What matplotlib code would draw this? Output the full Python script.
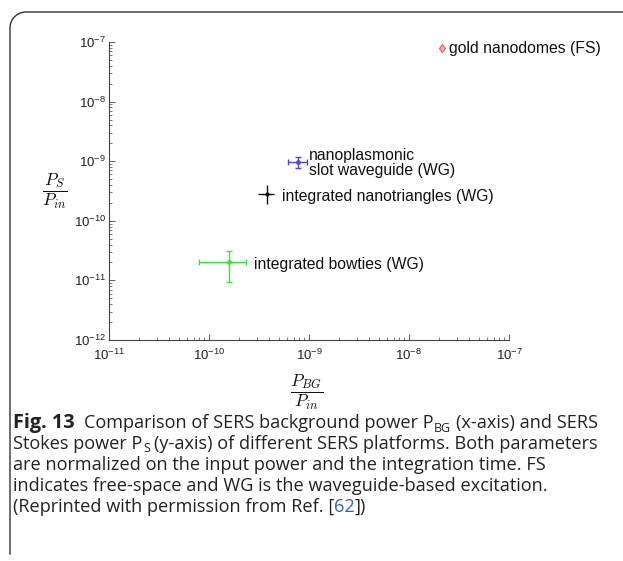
import numpy as np
import matplotlib
matplotlib.use("Agg")
import matplotlib.pyplot as plt
from matplotlib.lines import Line2D

plt.rcParams['mathtext.fontset'] = 'custom'
plt.rcParams['mathtext.rm'] = 'Liberation Sans'
plt.rcParams['mathtext.it'] = 'Liberation Sans:italic'
plt.rcParams['mathtext.bf'] = 'Liberation Sans:bold'
plt.rcParams['font.family'] = ['Liberation Sans', 'DejaVu Sans']

# ---------------- data ----------------
names = ["gold nanodomes (FS)", "nanoplasmonic\nslot waveguide (WG)",
         "integrated nanotriangles (WG)", "integrated bowties (WG)"]
x_val = [2.15e-8, 7.7e-10, 3.8e-10, 1.6e-10]
y_val = [7.8e-8, 9.8e-10, 2.8e-10, 2.05e-11]
x_lo = [2.10e-8, 6.2e-10, 3.07e-10, 7.9e-11]
x_hi = [2.20e-8, 9.5e-10, 4.5e-10, 2.34e-10]
y_lo = [7.0e-8, 7.6e-10, 1.9e-10, 9.5e-12]
y_hi = [8.6e-8, 1.19e-9, 4.0e-10, 3.16e-11]
colors = ["#e85a5a", "#4848e8", "#111111", "#3ce03c"]
label_pos = [(449, 48), (309, 163), (282, 196), (254, 264)]   # pixel anchors
x_ticks = [1e-11, 1e-10, 1e-9, 1e-8, 1e-7]
y_ticks = [1e-12, 1e-11, 1e-10, 1e-9, 1e-8, 1e-7]
x_tick_labels = [r"$10^{-11}$", r"$10^{-10}$", r"$10^{-9}$", r"$10^{-8}$", r"$10^{-7}$"]
y_tick_labels = [r"$10^{-12}$", r"$10^{-11}$", r"$10^{-10}$", r"$10^{-9}$", r"$10^{-8}$", r"$10^{-7}$"]

W, H = 623, 561
fig = plt.figure(figsize=(W / 100, H / 100), dpi=100)

def fx(px):
    return px / W

def fy(py):
    return 1 - py / H

ax = fig.add_axes([fx(109), fy(340), fx(509) - fx(109), fy(42) - fy(340)])
ax.set_xscale('log')
ax.set_yscale('log')
ax.set_xlim(1e-11, 1e-7)
ax.set_ylim(1e-12, 1e-7)
for s in ['top', 'right']:
    ax.spines[s].set_visible(False)
for s in ['left', 'bottom']:
    ax.spines[s].set_color('#444444')
    ax.spines[s].set_linewidth(0.8)
ax.set_xticks(x_ticks)
ax.set_xticklabels(x_tick_labels)
ax.set_yticks(y_ticks)
ax.set_yticklabels(y_tick_labels)
ax.tick_params(which='major', direction='in', length=4, width=0.6, color='#444444',
               labelsize=9.5, labelcolor='#222222')
ax.tick_params(which='minor', direction='in', length=2.2, width=0.5, color='#444444')
ax.tick_params(axis='y', pad=2)
ax.tick_params(axis='x', pad=5.5)

caps = [0, 2, 0, 2]
msz = [4.5, 2.5, 2.0, 2.5]
mks = ['d', 'o', 'o', 'o']
for i in range(len(names)):
    xe = [[x_val[i] - x_lo[i]], [x_hi[i] - x_val[i]]]
    ye = [[y_val[i] - y_lo[i]], [y_hi[i] - y_val[i]]]
    if i == 0:
        ax.errorbar([x_val[i]], [y_val[i]], yerr=ye, fmt=mks[i], color=colors[i],
                    ms=msz[i], mfc='#f4b0b0', mec=colors[i], mew=0.8, elinewidth=0.8,
                    capsize=0)
    else:
        ax.errorbar([x_val[i]], [y_val[i]], xerr=xe, yerr=ye, fmt=mks[i], color=colors[i],
                    ms=msz[i], elinewidth=1.0, capsize=caps[i], capthick=1.0)
    px, py = label_pos[i]
    fig.text(fx(px), fy(py), names[i], ha='left', va='center', fontsize=11.3,
             color='#111111', linespacing=0.95, family='Liberation Sans')

# axis labels (fractions)
fig.text(fx(55), fy(191), r"$\dfrac{P_S}{P_{in}}$", ha='center', va='center',
         fontsize=12.5, math_fontfamily='cm', color='#111111')
fig.text(fx(307), fy(392), r"$\dfrac{P_{BG}}{P_{in}}$", ha='center', va='center',
         fontsize=12.5, math_fontfamily='cm', color='#111111')

# rounded border (top and left)
r = 16
x0, y0 = 10, 12
theta = np.linspace(np.pi, np.pi / 2, 20)
arc_x = x0 + r + r * np.cos(theta)
arc_y = y0 + r - r * np.sin(theta)
bx = np.concatenate([[x0], arc_x, [W + 5]])
by = np.concatenate([[554], arc_y, [y0]])
fig.add_artist(Line2D(fx(bx), fy(by), transform=fig.transFigure, color='#333333', lw=1.0))

# caption
renderer = fig.canvas.get_renderer()
cap_font = 'Open Sans'
cap_size = 13.1
bold_size = 14.3
sub_size = 9.0

def width_of(t):
    bb = t.get_window_extent(renderer=renderer)
    return bb.width

def space_w(size, weight='normal'):
    a = fig.text(0, 0, "a a", fontsize=size, family=cap_font, weight=weight)
    b = fig.text(0, 0, "aa", fontsize=size, family=cap_font, weight=weight)
    w = width_of(a) - width_of(b)
    a.remove(); b.remove()
    return w

SP = space_w(cap_size)

def draw_line(x_px, y_px, segs):
    x = x_px
    for seg in segs:
        txt, size, weight, color, dy, gap_before = seg
        x += gap_before
        t = fig.text(fx(x), fy(y_px + dy), txt, fontsize=size, family=cap_font,
                     weight=weight, color=color, ha='left', va='baseline')
        x += width_of(t)

K = '#222222'
B = '#3060c0'
lines = [
    [("Fig. 13", bold_size, 'bold', K, 0, 0),
     ("Comparison of SERS background power P", cap_size, 'normal', K, 0, SP * 2.0),
     ("BG", sub_size, 'normal', K, 3.5, 0.5),
     ("(x-axis) and SERS", cap_size, 'normal', K, 0, SP)],
    [("Stokes power P", cap_size, 'normal', K, 0, 0),
     ("S", sub_size, 'normal', K, 3.5, 0.5),
     ("(y-axis) of different SERS platforms. Both parameters", cap_size, 'normal', K, 0, SP)],
    [("are normalized on the input power and the integration time. FS", cap_size, 'normal', K, 0, 0)],
    [("indicates free-space and WG is the waveguide-based excitation.", cap_size, 'normal', K, 0, 0)],
    [("(Reprinted with permission from Ref. [", cap_size, 'normal', K, 0, 0),
     ("62", cap_size, 'normal', B, 0, 0),
     ("])", cap_size, 'normal', K, 0, 0)],
]
baselines = [428, 449, 470, 491, 512]
for segs, yb in zip(lines, baselines):
    draw_line(13, yb, segs)

fig.savefig("out.png", dpi=100)
